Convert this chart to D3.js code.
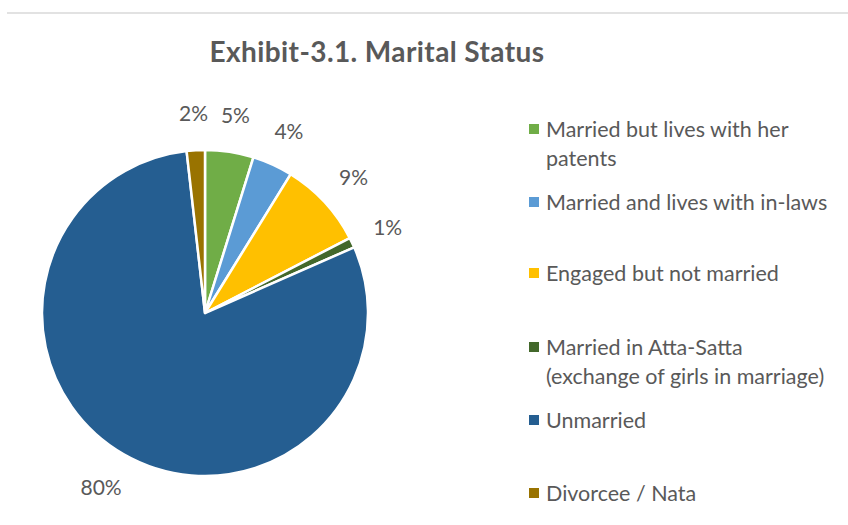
<!DOCTYPE html>
<html>
<head>
<meta charset="utf-8">
<script src="https://cdn.jsdelivr.net/npm/d3@7"></script>
<style>
  html, body { margin: 0; padding: 0; background: #fff; }
  text { font-family: Lato, "Open Sans", sans-serif; }
</style>
</head>
<body>
<svg id="chart" width="848" height="525"></svg>
<script>
const categories = [
  ["Married but lives with her", "patents"],
  ["Married and lives with in-laws"],
  ["Engaged but not married"],
  ["Married in Atta-Satta", "(exchange of girls in marriage)"],
  ["Unmarried"],
  ["Divorcee / Nata"]
];
const values = [4.8, 4.0, 8.6, 1.0, 79.8, 1.8];
const labels = ["5%", "4%", "9%", "1%", "80%", "2%"];
const colors = ["#70AD47", "#5B9BD5", "#FFC000", "#43682B", "#255E91", "#997300"];
const title = "Exhibit-3.1. Marital Status";

const svg = d3.select("#chart");

// top border line
svg.append("line").attr("x1", 7).attr("x2", 848).attr("y1", 13).attr("y2", 13)
  .attr("stroke", "#d9d9d9").attr("stroke-width", 1.5);

svg.append("text").attr("x", 377).attr("y", 62).attr("text-anchor", "middle")
  .attr("font-size", 28).attr("font-weight", "bold").attr("fill", "#595959")
  .attr("letter-spacing", 0.4)
  .text(title);

const cx = 205, cy = 313, r = 163;
const g = svg.append("g").attr("transform", `translate(${cx},${cy})`);
const pie = d3.pie().sort(null).value(d => d);
const arcs = pie(values);
const arc = d3.arc().innerRadius(0).outerRadius(r);

g.selectAll("path.slice").data(arcs).enter().append("path")
  .attr("class", "slice")
  .attr("d", arc)
  .attr("fill", (d, i) => colors[i])
  .attr("stroke", "#fff").attr("stroke-width", 2.5).attr("stroke-linejoin", "round");

// outside-end labels: anchor point just outside the arc, offset by half the label box
const labelR = 188;
const lbls = g.selectAll("text.lbl").data(arcs).enter().append("text")
  .attr("class", "lbl")
  .attr("text-anchor", "middle").attr("dominant-baseline", "central")
  .attr("font-size", 21).attr("fill", "#595959")
  .text((d, i) => labels[i]);
lbls.each(function(d) {
  const bb = this.getBBox();
  const a = (d.startAngle + d.endAngle) / 2;
  const ux = Math.sin(a), uy = -Math.cos(a);
  const x = labelR * ux + ux * bb.width / 2;
  const y = labelR * uy + uy * bb.height / 2;
  d3.select(this).attr("transform", `translate(${x},${y})`);
});

// legend
const legendY = [129, 202, 273, 347, 420, 493];
const lg = svg.append("g");
categories.forEach((lines, i) => {
  const y = legendY[i];
  lg.append("rect").attr("x", 529).attr("y", y - 5).attr("width", 10).attr("height", 10)
    .attr("fill", colors[i]);
  lines.forEach((t, j) => {
    lg.append("text").attr("x", 546).attr("y", y + j * 29)
      .attr("dominant-baseline", "central")
      .attr("font-size", 21.5).attr("fill", "#595959").text(t);
  });
});
</script>
</body>
</html>
